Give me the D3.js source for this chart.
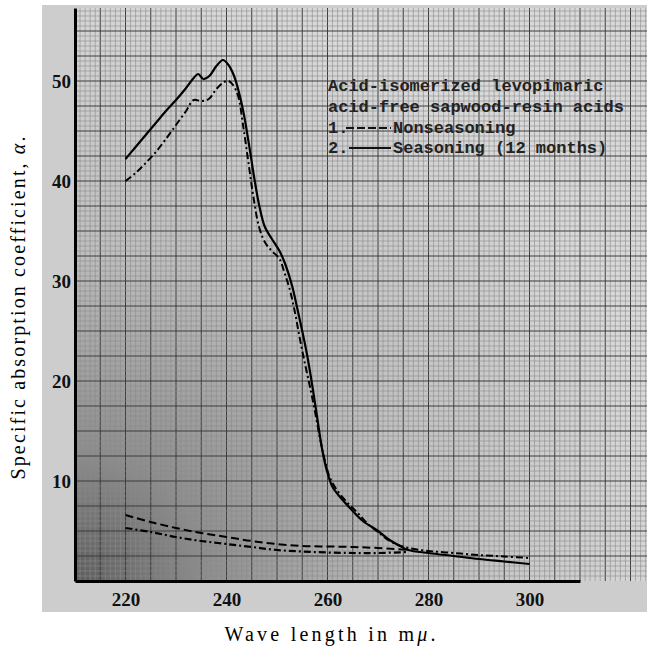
<!DOCTYPE html>
<html>
<head>
<meta charset="utf-8">
<script src="https://cdn.jsdelivr.net/npm/d3@7"></script>
<style>
  body { margin: 0; background: #fff; }
  svg { display: block; }
</style>
</head>
<body>
<div id="chart"></div>
<script>
var svgWidth = 647;
var svgHeight = 648;

// wave length (m mu) and alpha values
var seasonX = [220, 222, 224, 226, 228, 230, 232, 233.5, 234.4, 235.4, 236.6, 238, 239.3, 240.4, 241.5, 242.5, 243.5, 244.5, 245.5, 246.5, 247.6, 249, 250.5, 251.7, 253, 254, 255, 256, 257, 258, 259, 260, 261, 263, 265, 267, 270, 272, 274, 276, 280, 285, 290, 295, 300];
var seasonY = [42.2, 43.4, 44.6, 45.8, 47.0, 48.1, 49.3, 50.3, 50.7, 50.2, 50.5, 51.5, 52.1, 51.6, 50.5, 48.8, 46.5, 43.5, 40.3, 37.5, 35.4, 34.2, 33.0, 31.6, 29.5, 27.3, 25.0, 22.5, 19.5, 16.2, 13.0, 10.8, 9.4, 8.1, 7.0, 6.0, 5.0, 4.2, 3.6, 3.1, 2.8, 2.5, 2.2, 1.95, 1.7];

var nonseasonX = [220, 222, 224, 226, 228, 230, 232, 233.5, 235, 236.5, 238, 239.5, 240.4, 241.3, 242.3, 243.3, 244.3, 245.3, 246.5, 247.7, 249, 250.5, 251.5, 252.5, 253.5, 254.5, 255.5, 256.5, 257.5, 258.5, 259.5, 260.5, 262, 264, 266, 268, 270, 272, 274, 276, 280, 285, 290, 295, 300];
var nonseasonY = [40.0, 40.8, 41.8, 42.9, 44.2, 45.6, 47.0, 48.1, 48.0, 48.2, 49.2, 49.9, 50.0, 49.6, 48.5, 45.5, 42.0, 38.5, 35.3, 33.8, 33.0, 32.2, 30.8, 29.2, 27.0, 24.3, 21.8, 19.5, 17.0, 14.3, 12.0, 10.3, 9.0, 7.8, 6.8, 5.7, 4.9, 4.1, 3.6, 3.3, 3.0, 2.8, 2.6, 2.45, 2.3];

// the two low curves below 10
var lowX = [220, 225, 230, 235, 240, 245, 250, 255, 260, 265, 270, 276];
var lowAY = [6.6, 5.9, 5.3, 4.8, 4.4, 4.0, 3.7, 3.5, 3.45, 3.4, 3.3, 3.1];
var lowBY = [5.3, 4.9, 4.4, 4.0, 3.7, 3.4, 3.1, 2.95, 2.85, 2.8, 2.8, 2.9];

var xTicks = [220, 240, 260, 280, 300];
var yTicks = [10, 20, 30, 40, 50];

var legendLines = ["Acid-isomerized levopimaric", "acid-free sapwood-resin acids"];
var legendItems = ["Nonseasoning", "Seasoning (12 months)"];

var svg = d3.select("#chart")
  .append("svg")
  .attr("width", svgWidth)
  .attr("height", svgHeight);

var x = d3.scaleLinear().domain([210, 310]).range([75, 580]);
var y = d3.scaleLinear().domain([0, 57.3]).range([581, 8]);

// paper shading, darker toward the bottom left corner
var defs = svg.append("defs");
var grad = defs.append("radialGradient")
  .attr("id", "shade")
  .attr("gradientUnits", "userSpaceOnUse")
  .attr("cx", 75).attr("cy", 581).attr("r", 600);
grad.append("stop").attr("offset", "0%").attr("stop-color", "#5c5c5c");
grad.append("stop").attr("offset", "22%").attr("stop-color", "#8e8e8e");
grad.append("stop").attr("offset", "55%").attr("stop-color", "#bebebe");
grad.append("stop").attr("offset", "100%").attr("stop-color", "#d9d9d9");

svg.append("rect")
  .attr("x", 42).attr("y", 5)
  .attr("width", svgWidth - 42).attr("height", 607)
  .attr("fill", "#cdcdcd");

svg.append("rect")
  .attr("x", 75).attr("y", 8)
  .attr("width", svgWidth - 75).attr("height", 573)
  .attr("fill", "url(#shade)");

// graph paper grid
var grid = svg.append("g").attr("class", "grid");
var vx = d3.range(211, 325, 1);
var hy = d3.range(0.5, 57.5, 0.5);

grid.selectAll(".vline")
  .data(vx)
  .enter()
  .append("line")
  .attr("x1", d => x(d)).attr("x2", d => x(d))
  .attr("y1", 8).attr("y2", 581)
  .attr("stroke", d => d % 5 === 0 ? "#3c3c3c" : "#8a8a8a")
  .attr("stroke-width", d => d % 5 === 0 ? 1 : 0.6)
  .attr("opacity", d => x(d) > svgWidth ? 0 : 1);

grid.selectAll(".hline")
  .data(hy)
  .enter()
  .append("line")
  .attr("x1", 75).attr("x2", svgWidth)
  .attr("y1", d => y(d)).attr("y2", d => y(d))
  .attr("stroke", d => d % 2.5 === 0 ? "#3c3c3c" : "#8a8a8a")
  .attr("stroke-width", d => d % 2.5 === 0 ? 1 : 0.6);

// axes
var bottomAxis = d3.axisBottom(x).tickValues(xTicks).tickSize(0).tickPadding(12);
var leftAxis = d3.axisLeft(y).tickValues(yTicks).tickSize(0).tickPadding(4);

var gx = svg.append("g")
  .attr("transform", `translate(0, ${y(0)})`)
  .call(bottomAxis);
var gy = svg.append("g")
  .attr("transform", `translate(${x(210)}, 0)`)
  .call(leftAxis);

[gx, gy].forEach(function(g) {
  g.select(".domain").attr("stroke", "#000").attr("stroke-width", 3);
  g.selectAll("text")
    .attr("fill", "#111")
    .attr("font-family", "Liberation Serif, serif")
    .attr("font-weight", "bold")
    .attr("font-size", "19px");
});

// curves
var line = d3.line()
  .x(d => x(d[0]))
  .y(d => y(d[1]))
  .curve(d3.curveCatmullRom.alpha(0.5));

function pairs(xs, ys) {
  return xs.map((v, i) => [v, ys[i]]);
}

var curves = svg.append("g").attr("fill", "none").attr("stroke", "#000");

curves.append("path")
  .attr("d", line(pairs(seasonX, seasonY)))
  .attr("stroke-width", 2.2);

curves.append("path")
  .attr("d", line(pairs(nonseasonX, nonseasonY)))
  .attr("stroke-width", 2)
  .attr("stroke-dasharray", "7,3,2,3");

curves.append("path")
  .attr("d", line(pairs(lowX, lowAY)))
  .attr("stroke-width", 2)
  .attr("stroke-dasharray", "8,4");

curves.append("path")
  .attr("d", line(pairs(lowX, lowBY)))
  .attr("stroke-width", 2.2)
  .attr("stroke-dasharray", "7,3,2,3");

// typed legend
var legend = svg.append("g")
  .attr("font-family", "Liberation Mono, monospace")
  .attr("font-weight", "bold")
  .attr("font-size", "17px")
  .attr("fill", "#222");

legend.selectAll(".head")
  .data(legendLines)
  .enter()
  .append("text")
  .attr("x", 328)
  .attr("y", (d, i) => 91 + i * 21)
  .text(d => d);

legend.selectAll(".item")
  .data(legendItems)
  .enter()
  .append("text")
  .attr("x", 393)
  .attr("y", (d, i) => 133 + i * 20)
  .text(d => d);

legend.selectAll(".num")
  .data(legendItems)
  .enter()
  .append("text")
  .attr("x", 328)
  .attr("y", (d, i) => 133 + i * 20)
  .text((d, i) => (i + 1) + ".");

legend.append("line")
  .attr("x1", 346).attr("x2", 391)
  .attr("y1", 128).attr("y2", 128)
  .attr("stroke", "#111").attr("stroke-width", 2)
  .attr("stroke-dasharray", "8,3");

legend.append("line")
  .attr("x1", 349).attr("x2", 391)
  .attr("y1", 148).attr("y2", 148)
  .attr("stroke", "#111").attr("stroke-width", 2);

// axis titles
svg.append("text")
  .attr("transform", "translate(25, 308) rotate(-90)")
  .attr("text-anchor", "middle")
  .attr("font-family", "Liberation Serif, serif")
  .attr("font-size", "20px")
  .attr("textLength", 343)
  .attr("lengthAdjust", "spacing")
  .html("Specific absorption coefficient, <tspan font-style='italic'>α</tspan>.");

svg.append("text")
  .attr("x", 330)
  .attr("y", 641)
  .attr("text-anchor", "middle")
  .attr("font-family", "Liberation Serif, serif")
  .attr("font-size", "20px")
  .attr("textLength", 211)
  .attr("lengthAdjust", "spacing")
  .html("Wave length in m<tspan font-style='italic'>μ</tspan>.");
</script>
</body>
</html>
